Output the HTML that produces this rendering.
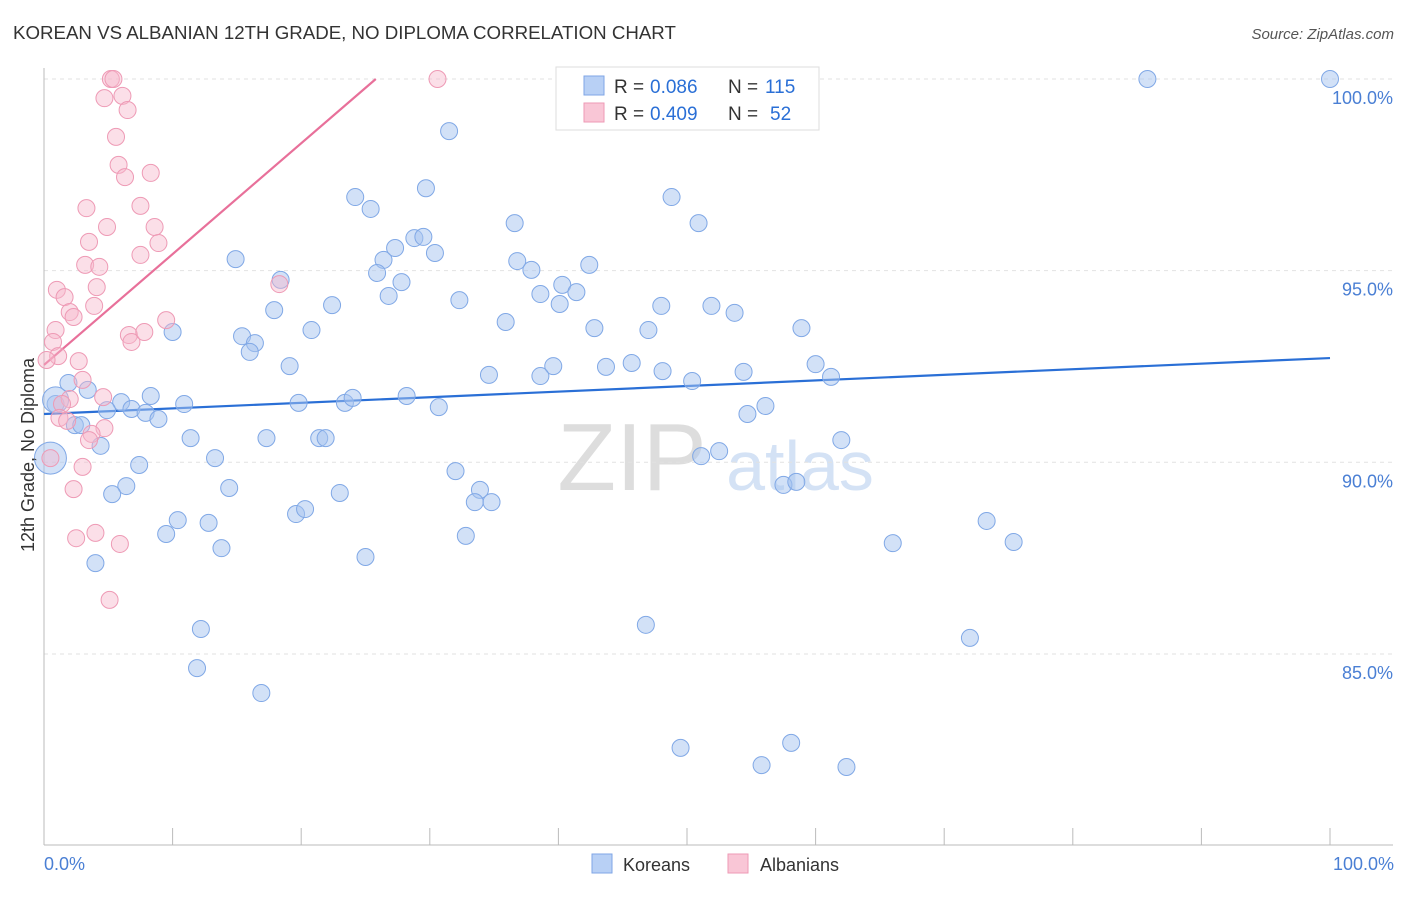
<!DOCTYPE html>
<html><head><meta charset="utf-8"><style>
body{margin:0;background:#fff;font-family:"Liberation Sans",sans-serif}
svg text{font-family:"Liberation Sans",sans-serif}
</style></head><body>
<svg id="chart" width="1406" height="892" xmlns="http://www.w3.org/2000/svg">
<text x="13" y="39" font-size="18.7" fill="#333">KOREAN VS ALBANIAN 12TH GRADE, NO DIPLOMA CORRELATION CHART</text>
<text x="1394" y="39" font-size="15" fill="#555" font-style="italic" text-anchor="end">Source: ZipAtlas.com</text>
<text x="632" y="490" font-size="96" fill="#ddd" font-family="Liberation Serif" text-anchor="middle">ZIP</text>
<text x="800" y="490" font-size="70" fill="#d4e2f5" text-anchor="middle">atlas</text>
<g id="grid"></g><g id="axes"></g><g id="lines"></g><g id="pts"></g>
<text transform="translate(34,455) rotate(-90)" font-size="18" fill="#333" text-anchor="middle">12th Grade, No Diploma</text>
<text x="44" y="870" font-size="18" fill="#4a7fd4">0.0%</text>
<text x="1394" y="870" font-size="18" fill="#4a7fd4" text-anchor="end">100.0%</text>
<g>
<rect x="556" y="67" width="263" height="63" fill="#fff" stroke="#ddd"/>
<rect x="584" y="76" width="20" height="19" fill="#b8d0f5" stroke="#7fa6e6"/>
<rect x="584" y="103" width="20" height="19" fill="#f9c6d6" stroke="#ee9ab5"/>
<text x="614" y="93" font-size="19" fill="#333">R =</text>
<text x="650" y="93" font-size="19" fill="#2a6fd6">0.086</text>
<text x="728" y="93" font-size="19" fill="#333">N =</text>
<text x="765" y="93" font-size="19" fill="#2a6fd6">115</text>
<text x="614" y="120" font-size="19" fill="#333">R =</text>
<text x="650" y="120" font-size="19" fill="#2a6fd6">0.409</text>
<text x="728" y="120" font-size="19" fill="#333">N =</text>
<text x="770" y="120" font-size="19" fill="#2a6fd6">52</text>
</g>
<g>
<rect x="592" y="854" width="20" height="19" fill="#b8d0f5" stroke="#7fa6e6"/>
<text x="623" y="871" font-size="18" fill="#333">Koreans</text>
<rect x="728" y="854" width="20" height="19" fill="#f9c6d6" stroke="#ee9ab5"/>
<text x="760" y="871" font-size="18" fill="#333">Albanians</text>
</g>
</svg>
<script>
const yTicks=[100,95,90,85];
const yTickLabels=["100.0%","95.0%","90.0%","85.0%"];
const xTicks=[0,10,20,30,40,50,60,70,80,90,100];
const koreanX=[85.8,100,31.5,29.7,24.2,25.4,48.8,50.9,36.6,14.9,18.4,26.4,27.3,28.8,29.5,30.4,25.9,27.8,26.8,32.3,36.8,37.9,38.6,40.3,41.4,42.4,40.1,48.0,51.9,53.7,17.9,22.4,20.8,10.0,15.4,16.4,16.0,19.1,35.9,42.8,47.0,58.9,39.6,38.6,34.6,43.7,45.7,48.1,50.4,54.4,60.0,61.2,1.9,3.4,8.3,6.0,0.9,4.9,6.8,7.9,8.9,10.9,19.8,23.4,24.0,28.2,30.7,54.7,56.1,2.4,2.9,4.4,11.4,17.3,21.4,21.9,62.0,51.1,52.5,13.3,7.4,32.0,6.4,5.3,14.4,23.0,33.9,33.5,34.8,57.5,58.5,10.4,12.8,9.5,19.6,20.3,13.8,32.8,25.0,4.0,66.0,73.3,75.4,12.2,46.8,72.0,11.9,16.9,49.5,55.8,58.1,62.4,0.5,0.9];
const koreanY=[100,100,98.64,97.15,96.92,96.61,96.92,96.24,96.24,95.30,94.76,95.28,95.59,95.85,95.88,95.46,94.94,94.70,94.34,94.23,95.25,95.02,94.39,94.63,94.44,95.15,94.13,94.08,94.08,93.90,93.97,94.10,93.45,93.40,93.29,93.11,92.88,92.51,93.66,93.50,93.45,93.50,92.51,92.25,92.28,92.49,92.59,92.38,92.12,92.36,92.56,92.23,92.07,91.89,91.73,91.57,91.52,91.36,91.39,91.29,91.13,91.52,91.55,91.55,91.68,91.73,91.44,91.26,91.47,90.97,90.97,90.43,90.63,90.63,90.63,90.63,90.58,90.16,90.29,90.11,89.93,89.77,89.38,89.17,89.33,89.20,89.28,88.96,88.96,89.41,89.49,88.49,88.42,88.13,88.65,88.78,87.76,88.08,87.53,87.37,87.89,88.47,87.92,85.65,85.76,85.42,84.63,83.98,82.55,82.10,82.68,82.05,90.11,91.63];
const albanianX=[5.2,5.4,30.6,4.7,6.1,6.5,5.6,5.8,6.3,8.3,3.3,7.5,4.9,8.6,3.5,8.9,3.2,4.3,7.5,1.0,1.6,4.1,3.9,2.0,2.3,9.5,18.3,0.9,0.7,6.6,6.8,7.8,1.1,2.7,3.0,4.6,2.0,1.4,1.2,1.8,4.7,3.7,3.5,0.5,3.0,2.3,4.0,2.5,5.9,5.1,0.2];
const albanianY=[100,100,100,99.50,99.56,99.19,98.49,97.76,97.44,97.55,96.63,96.69,96.14,96.14,95.75,95.72,95.15,95.10,95.41,94.50,94.31,94.57,94.08,93.92,93.79,93.71,94.65,93.45,93.14,93.32,93.14,93.40,92.77,92.64,92.15,91.70,91.65,91.52,91.16,91.08,90.89,90.74,90.58,90.11,89.88,89.30,88.16,88.02,87.87,86.41,92.67];
const koreanTrend=[91.26,92.72];
const albanianTrend=[92.54,100];
const albanianTrendEndX=25.8;

const NS="http://www.w3.org/2000/svg";
const sx=v=>44+v*12.86;
const sy=v=>79+(100-v)*38.33;
function mk(tag,attrs,parent){const e=document.createElementNS(NS,tag);for(const k in attrs)e.setAttribute(k,attrs[k]);document.getElementById(parent).appendChild(e);return e;}
yTicks.forEach((t,i)=>{
  const l=mk('line',{x1:44,x2:1393,y1:sy(t),y2:sy(t),stroke:'#e2e2e2','stroke-dasharray':'4,4'},'grid');
  
  
  const tx=mk('text',{x:1393,y:sy(t)+25,'font-size':18,fill:'#4a7fd4','text-anchor':'end'},'grid');
  tx.textContent=yTickLabels[i];
  
  
});
const ax=mk('line',{x1:44,x2:1393,y1:845,y2:845,stroke:'#bbb'},'axes');


const ay=mk('line',{x1:44,x2:44,y1:68,y2:845,stroke:'#bbb'},'axes');


xTicks.forEach(t=>{
  const l=mk('line',{x1:sx(t),x2:sx(t),y1:828,y2:845,stroke:'#bbb'},'axes');
  
  
});
function pt(x,y,r,fill,stroke,name){
  const c=mk('circle',{cx:sx(x),cy:sy(y),r:r,fill:fill,stroke:stroke,'stroke-width':1},'pts');
  
  
}
koreanX.forEach((x,i)=>pt(x,koreanY[i],i>=koreanX.length-2?(i==koreanX.length-2?16:13):8.5,'rgba(165,195,240,0.5)','#80a8e6','korean-point'));
albanianX.forEach((x,i)=>pt(x,albanianY[i],8.5,'rgba(247,185,205,0.45)','#ee9ab5','albanian-point'));
const bl=mk('line',{x1:sx(0),y1:sy(koreanTrend[0]),x2:sx(100),y2:sy(koreanTrend[1]),stroke:'#2a6fd6','stroke-width':2.2},'lines');


const pl=mk('line',{x1:sx(0),y1:sy(albanianTrend[0]),x2:sx(albanianTrendEndX),y2:sy(albanianTrend[1]),stroke:'#e8709a','stroke-width':2.2},'lines');


</script>
</body></html>
